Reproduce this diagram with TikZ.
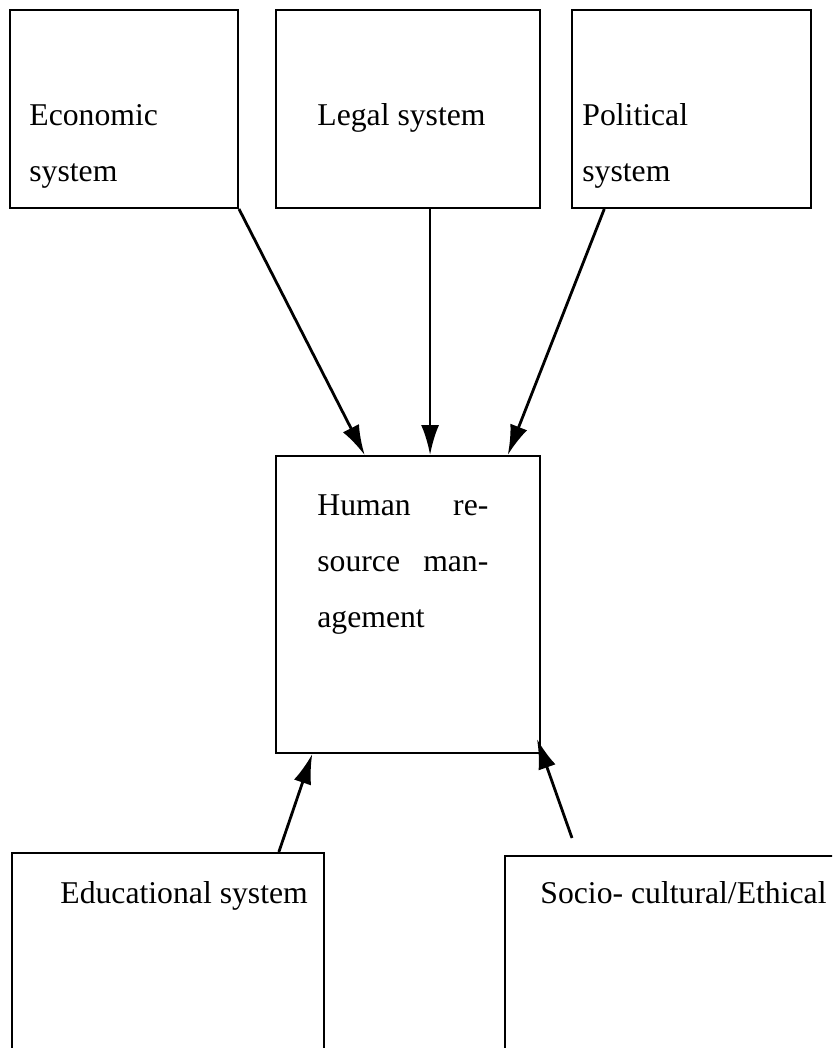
\documentclass[tikz,border=0pt]{standalone}
\usepackage{fontspec}
\setmainfont{Liberation Serif}
\usetikzlibrary{positioning, calc, arrows.meta}

\begin{document}
\begin{tikzpicture}[x = 0.5pt, y = -0.5pt,
    sysbox/.style = { draw, line width = 1pt, inner sep = 0pt },
    boxtext/.style = { anchor = base west, inner sep = 0pt, align = left,
                       font = \fontsize{15.85}{28}\selectfont },
    flow/.style = { line width = 1.4pt, -{Latex[length = 15pt, width = 9pt]} }]
  \clip (0,0) rectangle (832,1048);
  % outer systems
  \node [sysbox, minimum width = 114pt, minimum height = 99pt] (econ) at (124,109) {};
  \node [sysbox, minimum width = 132pt, minimum height = 99pt] (legal) at (408,109) {};
  \node [sysbox, minimum width = 119.5pt, minimum height = 99pt] (polit) at (691.5,109) {};
  \node [sysbox, minimum width = 132pt, minimum height = 148.5pt] (hrm) at (408,604.5) {};
  \node [sysbox, minimum width = 156pt, minimum height = 108.5pt] (educ) at (168,961.5) {};
  \node [sysbox, minimum width = 172.5pt, minimum height = 107pt] (socio) at (677.5,963) {};
  % texts (base of multi-line nodes is their last line)
  \node [boxtext] (econtext) at (29,182) { Economic \\ system };
  \node [boxtext] (legaltext) at (317,126) { Legal system };
  \node [boxtext] (polittext) at (582,182) { Political \\ system };
  \node [boxtext] (hrmtext) at (317,627)
    { \makebox[85.5pt][s]{Human re-} \\ \makebox[85.5pt][s]{source man-} \\ agement };
  \node [boxtext] (eductext) at (60,903) { Educational system };
  \node [boxtext] (sociotext) at (540,903) { Socio- cultural/Ethical };
  % arrows
  \coordinate (sociotail) at (572,838);
  \draw [flow] (econ.south east) -- ($(hrm.north west)!0.337!(hrm.north east)$);
  \draw [flow] ($(legal.south west)!0.583!(legal.south east)$) -- ($(hrm.north west)!0.583!(hrm.north east)$);
  \draw [flow] ($(polit.south west)!0.138!(polit.south east)$) -- ($(hrm.north west)!0.875!(hrm.north east)$);
  \draw [flow] ($(educ.north west)!0.853!(educ.north east)$) -- ($(hrm.south west)!0.14!(hrm.south east)$);
  \draw [flow] (sociotail) -- ($(hrm.south east)+(-4,-15)$);
\end{tikzpicture}
\end{document}
